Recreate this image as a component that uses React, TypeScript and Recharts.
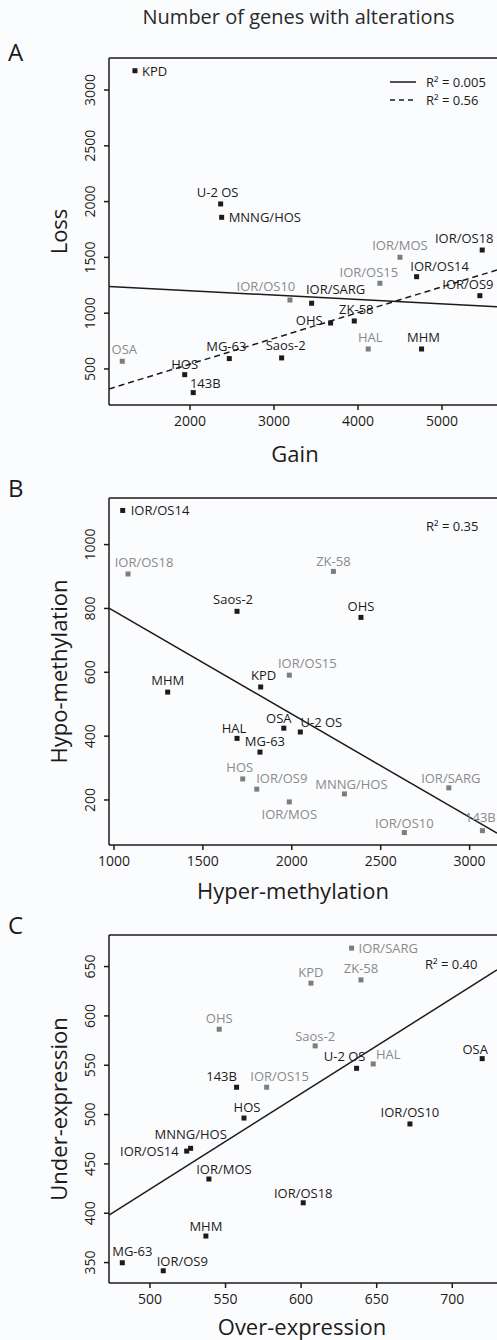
import React from "react";
import { ScatterChart, Scatter, XAxis, YAxis, ReferenceLine } from "recharts";

// ---- Panel A: copy number gain vs loss ----
const namesA = ["KPD", "U-2 OS", "MNNG/HOS", "IOR/MOS", "IOR/OS18", "IOR/OS14", "IOR/OS15", "IOR/OS9", "IOR/OS10", "IOR/SARG", "ZK-58", "OHS", "HAL", "MHM", "OSA", "HOS", "143B", "MG-63", "Saos-2"];
const gainA = [1345, 2365, 2377, 4500, 5479, 4698, 4261, 5451, 3190, 3448, 3956, 3674, 4122, 4757, 1194, 1937, 2039, 2468, 3091];
const lossA = [3173, 1979, 1859, 1501, 1566, 1327, 1268, 1157, 1118, 1089, 930, 912, 679, 679, 569, 449, 288, 593, 599];
const greyA = ["OSA", "IOR/OS10", "IOR/OS15", "IOR/MOS", "HAL"];
const fitAllA = [[1036, 1238], [5655, 1058]];
const fitSubA = [[1036, 321], [5655, 1387]];

// ---- Panel B: hyper vs hypo methylation ----
const namesB = ["IOR/OS14", "IOR/OS18", "ZK-58", "Saos-2", "OHS", "IOR/OS15", "MHM", "KPD", "OSA", "U-2 OS", "HAL", "MG-63", "HOS", "IOR/OS9", "IOR/MOS", "MNNG/HOS", "IOR/SARG", "IOR/OS10", "143B"];
const hyperB = [1049, 1079, 2234, 1692, 2389, 1986, 1302, 1825, 1955, 2048, 1692, 1821, 1724, 1803, 1986, 2296, 2883, 2633, 3072];
const hypoB = [1107, 908, 916, 791, 772, 591, 538, 554, 425, 413, 393, 350, 266, 234, 194, 219, 238, 98, 104];
const greyB = ["IOR/OS18", "ZK-58", "IOR/OS15", "HOS", "IOR/OS9", "IOR/MOS", "MNNG/HOS", "IOR/SARG", "IOR/OS10", "143B"];
const fitB = [[972, 801], [3154, 96]];

// ---- Panel C: over vs under expression ----
const namesC = ["IOR/SARG", "KPD", "ZK-58", "OHS", "Saos-2", "U-2 OS", "HAL", "OSA", "143B", "IOR/OS15", "HOS", "IOR/OS10", "MNNG/HOS", "IOR/OS14", "IOR/MOS", "IOR/OS18", "MHM", "MG-63", "IOR/OS9"];
const overC = [633.4, 606.5, 639.6, 545.8, 609.3, 636.7, 647.7, 719.8, 557.3, 577.2, 562.2, 672, 526.9, 524.3, 539, 601.4, 537, 481.7, 508.8];
const underC = [668.7, 633.2, 636.5, 586.5, 569.6, 546.9, 551.3, 556.7, 527.7, 527.7, 496.5, 490.5, 465.8, 463, 434.7, 410.6, 376.9, 349.8, 341.7];
const greyC = ["IOR/SARG", "KPD", "ZK-58", "OHS", "Saos-2", "HAL", "IOR/OS15"];
const fitC = [[472.9, 398.2], [729.6, 646.6]];

// label placement per point: [dx, dy, anchor]
type Place = [number, number, "start" | "middle" | "end"];
const placeA: Record<string, Place> = {
  KPD: [7, 0, "start"], "U-2 OS": [-3, -12, "middle"], "MNNG/HOS": [7, 0, "start"],
  "IOR/MOS": [0, -12, "middle"], "IOR/OS18": [-18, -12, "middle"], "IOR/OS14": [23, -11, "middle"],
  "IOR/OS15": [-11, -11, "middle"], "IOR/OS9": [-12, -12, "middle"], "IOR/OS10": [-24, -14, "middle"],
  "IOR/SARG": [24, -14, "middle"], "ZK-58": [2, -12, "middle"], OHS: [-8, -3, "end"],
  HAL: [2, -12, "middle"], MHM: [2, -12, "middle"], OSA: [2, -12, "middle"], HOS: [0, -11, "middle"],
  "143B": [12, -10, "middle"], "MG-63": [-3, -13, "middle"], "Saos-2": [4, -13, "middle"],
};
const placeB: Record<string, Place> = {
  "IOR/OS14": [8, 0, "start"], "IOR/OS18": [16, -12, "middle"], "ZK-58": [0, -10, "middle"],
  "Saos-2": [-4, -12, "middle"], OHS: [0, -11, "middle"], "IOR/OS15": [18, -12, "middle"],
  MHM: [0, -12, "middle"], KPD: [3, -12, "middle"], OSA: [-5, -10, "middle"], "U-2 OS": [21, -10, "middle"],
  HAL: [-3, -10, "middle"], "MG-63": [5, -11, "middle"], HOS: [-3, -12, "middle"], "IOR/OS9": [25, -11, "middle"],
  "IOR/MOS": [0, 12, "middle"], "MNNG/HOS": [7, -10, "middle"], "IOR/SARG": [2, -10, "middle"],
  "IOR/OS10": [0, -10, "middle"], "143B": [-2, -14, "middle"],
};
const placeC: Record<string, Place> = {
  "IOR/SARG": [7, 0, "start"], KPD: [0, -11, "middle"], "ZK-58": [0, -12, "middle"], OHS: [0, -11, "middle"],
  "Saos-2": [0, -10, "middle"], "U-2 OS": [-12, -12, "middle"], HAL: [15, -10, "middle"], OSA: [-7, -10, "middle"],
  "143B": [-15, -11, "middle"], "IOR/OS15": [13, -11, "middle"], HOS: [3, -11, "middle"], "IOR/OS10": [0, -12, "middle"],
  "MNNG/HOS": [0, -14, "middle"], "IOR/OS14": [-8, 0, "end"], "IOR/MOS": [15, -10, "middle"],
  "IOR/OS18": [0, -10, "middle"], MHM: [0, -10, "middle"], "MG-63": [10, -12, "middle"], "IOR/OS9": [19, -10, "middle"],
};

const FONT = "'Open Sans', 'Noto Sans', sans-serif";
const INK = "#1e1a1a";
const GREY = "#7d7d7d";
const W = 497;

interface PanelProps {
  top: number;
  height: number;
  margin: { top: number; bottom: number };
  names: string[];
  xs: number[];
  ys: number[];
  grey: string[];
  place: Record<string, Place>;
  xDomain: [number, number];
  yDomain: [number, number];
  xTicks: number[];
  yTicks: number[];
  xTitle: string;
  yTitle: string;
  xTitleX: number;
  xTitleDy: number;
  fits: { pts: number[][]; dash?: string }[];
}

function Panel(p: PanelProps) {
  const rows = p.names.map((name, i) => ({ name, x: p.xs[i], y: p.ys[i] }));
  const dark = rows.filter(r => !p.grey.includes(r.name));
  const light = rows.filter(r => p.grey.includes(r.name));

  const marker = (color: string) => (s: any) => {
    const pl = p.place[s.payload.name] || [0, -12, "middle"];
    return (
      <g>
        <rect x={s.cx - 2.5} y={s.cy - 2.5} width={5} height={5} fill={color} />
        <text x={s.cx + pl[0]} y={s.cy + pl[1]} textAnchor={pl[2]} dominantBaseline="central"
          fontSize={13} fontFamily={FONT} fill={color === INK ? INK : "#8a8a8a"}>
          {s.payload.name}
        </text>
      </g>
    );
  };

  const yTick = (t: any) => (
    <text x={t.x} y={t.y} transform={`rotate(-90 ${t.x} ${t.y})`} textAnchor="middle"
      dominantBaseline="central" fontSize={14} fontFamily={FONT} fill={INK}>
      {t.payload.value}
    </text>
  );

  return (
    <div style={{ position: "absolute", left: 0, top: p.top }}>
      <ScatterChart width={W} height={p.height} margin={{ top: p.margin.top, right: 0, bottom: p.margin.bottom, left: 49 }}>
        <XAxis type="number" dataKey="x" domain={p.xDomain} ticks={p.xTicks} allowDataOverflow
          stroke={INK} strokeWidth={1.5} tickSize={5} tickMargin={6} height={30}
          tick={{ fontSize: 14, fontFamily: FONT, fill: INK }}
          label={{
            content: (l: any) => (
              <text x={p.xTitleX} y={l.viewBox.y + l.viewBox.height + p.xTitleDy} textAnchor="middle"
                dominantBaseline="central" fontSize={22} fontFamily={FONT} fill={INK}>{p.xTitle}</text>
            ),
          }} />
        <YAxis type="number" dataKey="y" domain={p.yDomain} ticks={p.yTicks} allowDataOverflow
          stroke={INK} strokeWidth={1.5} tickSize={5} tickMargin={14} width={60} tick={yTick}
          label={{
            content: (l: any) => {
              const cy = l.viewBox.y + l.viewBox.height / 2;
              return (
                <text x={58} y={cy} transform={`rotate(-90 58 ${cy})`} textAnchor="middle"
                  dominantBaseline="central" fontSize={22} fontFamily={FONT} fill={INK}>{p.yTitle}</text>
              );
            },
          }} />
        <ReferenceLine y={p.yDomain[1]} stroke={INK} strokeWidth={1.5} />
        {p.fits.map((f, i) => (
          <ReferenceLine key={i} ifOverflow="hidden" stroke={INK} strokeWidth={1.5} strokeDasharray={f.dash}
            segment={[{ x: f.pts[0][0], y: f.pts[0][1] }, { x: f.pts[1][0], y: f.pts[1][1] }]} />
        ))}
        <Scatter data={light} shape={marker(GREY)} isAnimationActive={false} />
        <Scatter data={dark} shape={marker(INK)} isAnimationActive={false} />
      </ScatterChart>
    </div>
  );
}

const letter = (t: string, top: number) => (
  <div style={{ position: "absolute", left: 8, top, fontFamily: FONT, fontSize: 24, color: INK, lineHeight: "28px" }}>{t}</div>
);

const note = (t: string, left: number, top: number) => (
  <div style={{ position: "absolute", left, top, fontFamily: FONT, fontSize: 13, color: INK, lineHeight: "16px", whiteSpace: "nowrap" }}>{t}</div>
);

export default function App() {
  return (
    <div style={{ position: "fixed", left: 0, top: 0, width: W, height: 1340, background: "#fbfcfd", overflow: "hidden" }}>
      <div style={{ position: "absolute", left: 0, width: 597, top: 4, textAlign: "center", fontFamily: FONT, fontSize: 20, color: "#2a2a2a", lineHeight: "26px" }}>
        Number of genes with alterations
      </div>
      {letter("A", 38)}
      {letter("B", 474)}
      {letter("C", 911)}

      <Panel top={0} height={470} margin={{ top: 58, bottom: 35 }} names={namesA} xs={gainA} ys={lossA} grey={greyA}
        place={placeA} xDomain={[1036, 5655]} yDomain={[177, 3287]} xTicks={[2000, 3000, 4000, 5000]}
        yTicks={[500, 1000, 1500, 2000, 2500, 3000]} xTitle="Gain" yTitle="Loss" xTitleX={295} xTitleDy={18}
        fits={[{ pts: fitAllA }, { pts: fitSubA, dash: "6 4" }]} />
      <Panel top={470} height={440} margin={{ top: 28, bottom: 35 }} names={namesB} xs={hyperB} ys={hypoB} grey={greyB}
        place={placeB} xDomain={[972, 3154]} yDomain={[59, 1146]} xTicks={[1000, 1500, 2000, 2500, 3000]}
        yTicks={[200, 400, 600, 800, 1000]} xTitle="Hyper-methylation" yTitle="Hypo-methylation" xTitleX={293} xTitleDy={15}
        fits={[{ pts: fitB }]} />
      <Panel top={900} height={440} margin={{ top: 35, bottom: 27 }} names={namesC} xs={overC} ys={underC} grey={greyC}
        place={placeC} xDomain={[472.9, 729.6]} yDomain={[329.3, 682]} xTicks={[500, 550, 600, 650, 700]}
        yTicks={[350, 400, 450, 500, 550, 600, 650]} xTitle="Over-expression" yTitle="Under-expression" xTitleX={302} xTitleDy={13}
        fits={[{ pts: fitC }]} />

      <svg style={{ position: "absolute", left: 388, top: 74 }} width={30} height={34}>
        <line x1={2} x2={28} y1={8} y2={8} stroke={INK} strokeWidth={1.5} />
        <line x1={2} x2={28} y1={26} y2={26} stroke={INK} strokeWidth={1.5} strokeDasharray="5 4" />
      </svg>
      {note("R² = 0.005", 426, 74)}
      {note("R² = 0.56", 426, 92)}
      {note("R² = 0.35", 426, 518)}
      {note("R² = 0.40", 425, 956)}
    </div>
  );
}
